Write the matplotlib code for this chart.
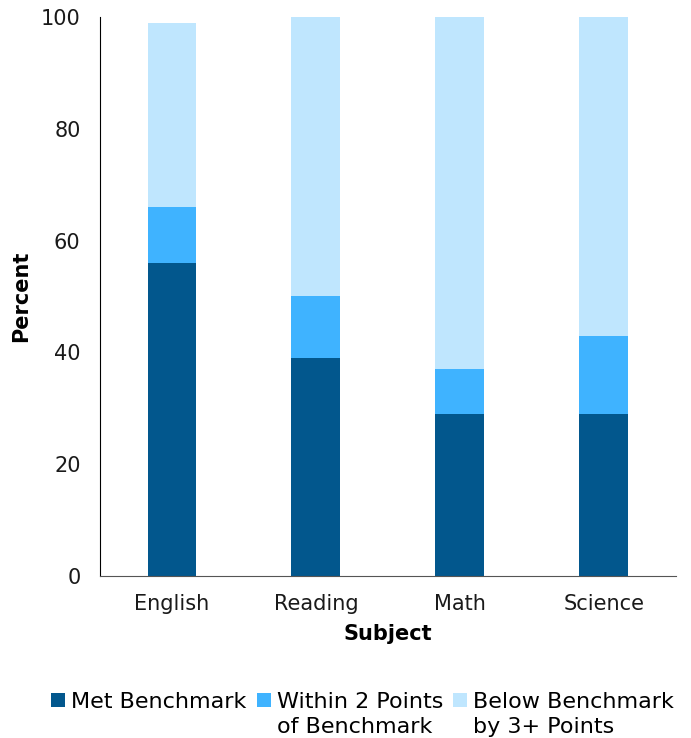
import numpy as np
import matplotlib
matplotlib.use('Agg')
from matplotlib import pyplot as plt
from matplotlib import patches as mpatches
from matplotlib.container import BarContainer
from matplotlib.legend_handler import HandlerPatch

plt.rcParams['font.family'] = ['DejaVu Sans']

subjects = ['English', 'Reading', 'Math', 'Science']
met = [56, 39, 29, 29]
within = [10, 11, 8, 14]
below = [33, 50, 63, 57]
series_names = ['Met Benchmark\n ', 'Within 2 Points\nof Benchmark', 'Below Benchmark\nby 3+ Points']
colors = ['#02578D', '#3FB3FF', '#BFE6FE']

fig = plt.figure(figsize=(6.91, 7.38), dpi=100)
ax = fig.add_axes([0.1447, 0.2195, 0.8335, 0.7575])

x = np.arange(len(subjects))
bottom = np.zeros(len(subjects))
for vals, name, c in zip([met, within, below], series_names, colors):
    ax.bar(x, vals, 0.34, bottom=bottom, color=c, label=name)
    bottom += np.array(vals)

ax.set_xlim(-0.5, 3.5)
ax.set_ylim(0, 100)
ax.set_yticks([0, 20, 40, 60, 80, 100])
ax.set_xticks(x)
ax.set_xticklabels(subjects)
ax.tick_params(length=0, labelsize=15, colors='#1a1a1a')
ax.tick_params(axis='x', pad=13)
ax.tick_params(axis='y', pad=14)
for s in ['top', 'right']:
    ax.spines[s].set_visible(False)
ax.spines['left'].set_color('black')
ax.spines['bottom'].set_color('#555555')
ax.set_xlabel('Subject', fontsize=15, fontweight='bold', labelpad=7)
ax.set_ylabel('Percent', fontsize=15, fontweight='bold')
ax.yaxis.set_label_coords(-0.12, 0.5)


# square handle lined up with the first line of the label
def top_square(legend, orig_handle, xdescent, ydescent, width, height, fontsize):
    return mpatches.Rectangle((-xdescent, -ydescent + 0.65 * fontsize), width, height)


def first_bar(legend_handle, orig_handle):
    legend_handle.update_from(orig_handle.patches[0])


handles, labels = ax.get_legend_handles_labels()
leg = fig.legend(handles, labels, loc='upper center', bbox_to_anchor=(0.525, 0.075), ncol=3,
                 frameon=False, fontsize=16, handlelength=0.63, handleheight=0.63,
                 handletextpad=0.27, columnspacing=0.45, borderaxespad=0,
                 handler_map={BarContainer: HandlerPatch(patch_func=top_square,
                                                         update_func=first_bar)})
for t in leg.get_texts():
    t.set_linespacing(1.35)

fig.savefig('out.png', dpi=100)
